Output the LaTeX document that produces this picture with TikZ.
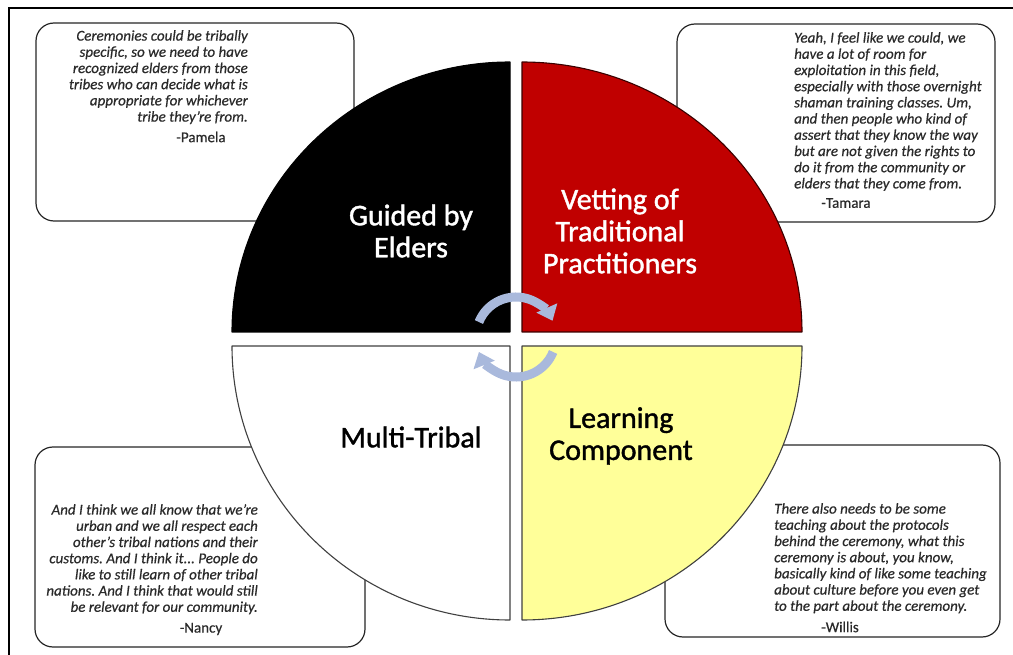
\documentclass[tikz,border=0pt]{standalone}
\usepackage{fontspec}
\setmainfont{Carlito}
\newfontfamily\labelfont[FakeBold=1.3]{Carlito}
\newfontfamily\quotefont[FakeBold=0.5,Ligatures=TeX]{Carlito Italic}
\newfontfamily\speakerfont[FakeBold=0.5,Ligatures=TeX]{Carlito}
\frenchspacing
\usetikzlibrary{arrows.meta}

\definecolor{quadred}{HTML}{C00000}
\definecolor{quadyellow}{HTML}{FFFF99}
\definecolor{cyclefill}{HTML}{A9B9DC}
\definecolor{quotegray}{HTML}{2A2A2A}

\tikzset{
  quad/.style={draw=#1, line width=1.1pt, line join=round},
  quotebox/.style={draw=black!85, line width=1.2pt, rounded corners=18pt,
    fill=white, inner sep=0pt},
  quotetext/.style={font=\quotefont\fontsize{15}{16.2}\selectfont,
    text=quotegray, inner sep=0pt},
  speaker/.style={font=\speakerfont\fontsize{15}{16.2}\selectfont, text=quotegray,
    inner sep=0pt},
  quadlabel/.style={font=\labelfont\fontsize{30}{32}\selectfont, align=center,
    inner sep=0pt},
  cyclearrow/.style={draw=cyclefill, line width=9pt,
    -{Triangle[width=22pt,length=14pt]}},
}

\begin{document}
\begin{tikzpicture}[x=1pt,y=-1pt]
  \useasboundingbox (0,0) rectangle (1013,655);
  \clip (0,0) rectangle (1013,655);

  % outer frame
  \draw[line width=2pt] (9,8) rectangle (1030,680);

  % quote boxes (behind the wheel)
  \node[quotebox, minimum width=318pt, minimum height=198pt] (boxP) at (195,122) {};
  \node[quotebox, minimum width=318pt, minimum height=198pt] (boxT) at (836,123) {};
  \node[quotebox, minimum width=330pt, minimum height=200pt] (boxN) at (200,547) {};
  \node[quotebox, minimum width=335pt, minimum height=192pt] (boxW) at (832.5,541) {};

  % four quadrants of the wheel
  \draw[quad=black, fill=black] (510,332) -- (232,332)
    arc[start angle=180, end angle=270, x radius=278, y radius=270] -- cycle;
  \draw[quad=black!70!quadred, fill=quadred] (522,332) -- (522,62)
    arc[start angle=270, end angle=360, x radius=280, y radius=270] -- cycle;
  \draw[quad=black!75, fill=white] (510,346) -- (510,620)
    arc[start angle=90, end angle=180, x radius=278, y radius=274] -- cycle;
  \draw[quad=black!75, fill=quadyellow] (522,346) -- (802,346)
    arc[start angle=0, end angle=90, x radius=280, y radius=274] -- cycle;

  % quadrant labels
  \node[quadlabel, text=white] (elders) at (411,231) {Guided by\\Elders};
  \node[quadlabel, text=white] (vetting) at (620,231) {Vetting of\\Traditional\\Practitioners};
  \node[quadlabel, text=black] (multi) at (411,437) {Multi-Tribal};
  \node[quadlabel, text=black] (learning) at (621,436) {Learning\\Component};

  % circular arrows in the centre
  \coordinate (hub) at (516,337);
  \draw[cyclearrow] (hub) ++(202:40) arc[start angle=202, end angle=336, radius=40];
  \draw[cyclearrow] (hub) ++(22:40) arc[start angle=22, end angle=158, radius=40];

  % quotes
  \node[quotetext, align=right, anchor=north east] (qP) at (248,30)
    {Ceremonies could be tribally\\specific, so we need to have\\recognized elders from those\\tribes who can decide what is\\appropriate for whichever\\tribe they're from.};
  \node[speaker] (sP) at (201,137) {-Pamela};

  \node[quotetext, align=left, anchor=north west] (qT) at (794,32)
    {Yeah, I feel like we could, we\\have a lot of room for\\exploitation in this field,\\especially with those overnight\\shaman training classes. Um,\\and then people who kind of\\assert that they know the way\\but are not given the rights to\\do it from the community or\\elders that they come from.};
  \node[speaker] (sT) at (846,203) {-Tamara};

  \node[quotetext, align=right, anchor=north east] (qN) at (258,504)
    {And I think we all know that we're\\urban and we all respect each\\other's tribal nations and their\\customs. And I think it... People do\\like to still learn of other tribal\\nations. And I think that would still\\be relevant for our community.};
  \node[speaker] (sN) at (201,629) {-Nancy};

  \node[quotetext, align=left, anchor=north west] (qW) at (774,503)
    {There also needs to be some\\teaching about the protocols\\behind the ceremony, what this\\ceremony is about, you know,\\basically kind of like some teaching\\about culture before you even get\\to the part about the ceremony.};
  \node[speaker] (sW) at (840,627) {-Willis};
\end{tikzpicture}
\end{document}
